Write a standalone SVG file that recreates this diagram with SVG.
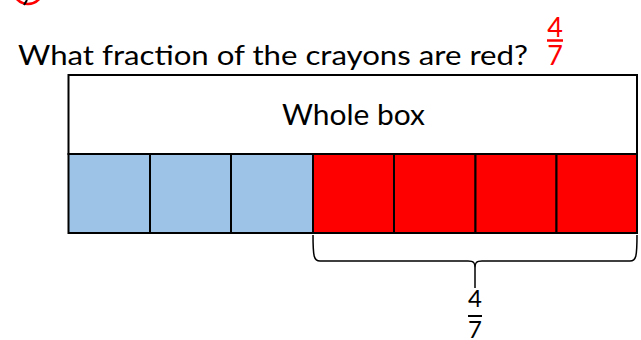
<svg xmlns="http://www.w3.org/2000/svg" width="641" height="340" viewBox="0 0 641 340">
<style>
.t{font-family:Lato,"Open Sans","Liberation Sans",sans-serif;fill:#000}
.red{fill:#ff0000}
.cell{stroke:#000;stroke-width:2}
.blue{fill:#9dc3e6}
.rc{fill:#ff0000}
</style>
<rect width="641" height="340" fill="#fff"/>
<g id="badge">
<circle cx="28" cy="-11" r="15" fill="none" stroke="#ff0000" stroke-width="2.5"/>
<line x1="27" y1="0" x2="24" y2="5" stroke="#000" stroke-width="2"/>
</g>
<g id="title">
<text class="t" x="18" y="65" font-size="27" textLength="510" lengthAdjust="spacingAndGlyphs">What fraction of the crayons are red?</text>
</g>
<g id="answer">
<text class="t red" x="555" y="37" font-size="27" text-anchor="middle">4</text>
<line x1="547" y1="40.5" x2="563" y2="40.5" stroke="#ff0000" stroke-width="2.5"/>
<text class="t red" x="555" y="65" font-size="27" text-anchor="middle">7</text>
</g>
<g id="whole-box">
<rect x="68.5" y="75" width="568.5" height="79" fill="#fff" stroke="#000" stroke-width="2"/>
<text class="t" x="282" y="125" font-size="29" textLength="143" lengthAdjust="spacingAndGlyphs">Whole box</text>
</g>
<g id="cells">
<rect id="c1" class="cell blue" x="68.5" y="154" width="81.5" height="79"/>
<rect id="c2" class="cell blue" x="150" y="154" width="81" height="79"/>
<rect id="c3" class="cell blue" x="231" y="154" width="82" height="79"/>
<rect id="c4" class="cell rc" x="313" y="154" width="81" height="79"/>
<rect id="c5" class="cell rc" x="394" y="154" width="81.5" height="79"/>
<rect id="c6" class="cell rc" x="475.5" y="154" width="81" height="79"/>
<rect id="c7" class="cell rc" x="556.5" y="154" width="80.5" height="79"/>
</g>
<g id="connectors">
<path d="M313,235 C313,257 314,261 320,261 L468,261 C474,261 475,263 475,268 C475,263 476,261 482,261 L630,261 C636,261 637,257 637,235 M475,268 L475,288" fill="none" stroke="#000" stroke-width="1.5"/>
</g>
<g id="brace-label">
<text class="t" x="475" y="307" font-size="24" text-anchor="middle">4</text>
<line x1="468" y1="316" x2="482" y2="316" stroke="#000" stroke-width="2"/>
<text class="t" x="475" y="338" font-size="24" text-anchor="middle">7</text>
</g>
</svg>
